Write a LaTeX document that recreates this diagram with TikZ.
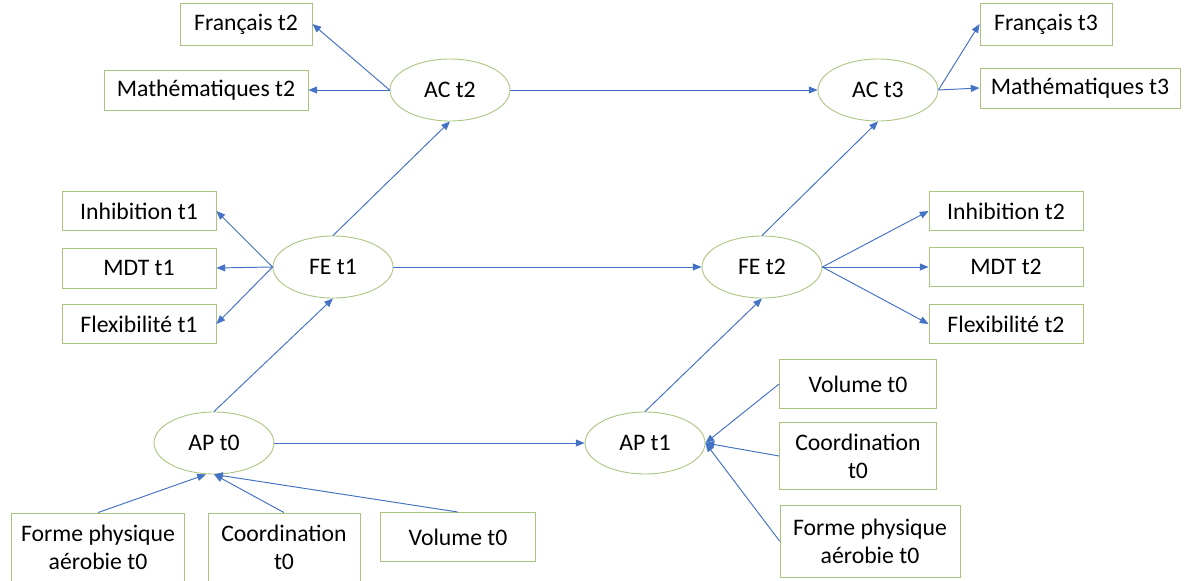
\documentclass[tikz,border=0pt]{standalone}
\usepackage{fontspec}
\setmainfont{Carlito}
\usetikzlibrary{positioning, arrows.meta, shapes.geometric}
\definecolor{nBlue}{HTML}{4472C4}
\definecolor{nGreen}{HTML}{A9C47F}

\begin{document}
\begin{tikzpicture}[x=0.02cm, y=-0.02cm, >={Triangle[length=5pt,width=4pt]},
    ind/.style={draw=nGreen, line width=0.5pt, minimum height=0.8cm, align=center,
      inner sep=2pt, font=\fontsize{13.5}{16}\selectfont},
    lat/.style={ellipse, draw=nGreen, line width=0.5pt, minimum width=2.4cm, minimum height=1.24cm,
      inner sep=0pt, font=\fontsize{13.5}{16}\selectfont},
    link/.style={->, draw=nBlue, line width=0.55pt}]
  \useasboundingbox (0,0) rectangle (1188,581);
  % latent variables
  \node[lat] (ac2) at (450,90) {AC t2};
  \node[lat] (ac3) at (878,90) {AC t3};
  \node[lat] (fe1) at (333,267) {FE t1};
  \node[lat] (fe2) at (762,267) {FE t2};
  \node[lat] (ap0) at (214,443) {AP t0};
  \node[lat] (ap1) at (645,443) {AP t1};
  % indicators
  \node[ind, minimum width=2.64cm, minimum height=0.84cm] (fr2) at (246,24) {Français t2};
  \node[ind, minimum width=4.08cm] (ma2) at (206,90) {Mathématiques t2};
  \node[ind, minimum width=2.64cm, minimum height=0.84cm] (fr3) at (1046,24) {Français t3};
  \node[ind, minimum width=4.0cm] (ma3) at (1080,88) {Mathématiques t3};
  \node[ind, minimum width=3.08cm, minimum height=0.78cm] (in1) at (139,211) {Inhibition t1};
  \node[ind, minimum width=3.08cm] (md1) at (139,268) {MDT t1};
  \node[ind, minimum width=3.08cm, minimum height=0.78cm] (fl1) at (139,324) {Flexibilité t1};
  \node[ind, minimum width=3.08cm, minimum height=0.78cm] (in2) at (1006,211) {Inhibition t2};
  \node[ind, minimum width=3.08cm, minimum height=0.78cm] (md2) at (1006,267) {MDT t2};
  \node[ind, minimum width=3.08cm, minimum height=0.78cm] (fl2) at (1006,324) {Flexibilité t2};
  \node[ind, minimum width=3.14cm, minimum height=0.98cm] (vo1) at (858,384) {Volume t0};
  \node[ind, minimum width=3.14cm, minimum height=1.34cm] (co1) at (858,456) {Coordination\\t0};
  \node[ind, minimum width=3.6cm, minimum height=1.44cm] (fo1) at (870,541) {Forme physique\\aérobie t0};
  \node[ind, minimum width=3.46cm, minimum height=1.36cm] (fo0) at (98,547) {Forme physique\\aérobie t0};
  \node[ind, minimum width=3.04cm, minimum height=1.36cm] (co0) at (284,547) {Coordination\\t0};
  \node[ind, minimum width=3.1cm, minimum height=0.98cm] (vo0) at (458,537) {Volume t0};
  % structural paths
  \draw[link] (ac2) -- (ac3);
  \draw[link] (fe1) -- (fe2);
  \draw[link] (ap0) -- (ap1);
  \draw[link] (fe1.north) -- (ac2.south);
  \draw[link] (fe2.north) -- (ac3.south);
  \draw[link] (ap0.north) -- (fe1.south);
  \draw[link] (ap1.north) -- (fe2.south);
  % measurement paths
  \draw[link] (ac2.west) -- (fr2.east);
  \draw[link] (ac2.west) -- (ma2.east);
  \draw[link] (ac3.east) -- (fr3.west);
  \draw[link] (ac3.east) -- (ma3.west);
  \draw[link] (fe1.west) -- (in1.east);
  \draw[link] (fe1.west) -- (md1.east);
  \draw[link] (fe1.west) -- (fl1.east);
  \draw[link] (fe2.east) -- (in2.west);
  \draw[link] (fe2.east) -- (md2.west);
  \draw[link] (fe2.east) -- (fl2.west);
  \draw[link] (vo1.west) -- (ap1.east);
  \draw[link] (co1.west) -- (ap1.east);
  \draw[link] (fo1.west) -- (ap1.east);
  \draw[link] (fo0.north) -- ([xshift=-0.16cm]ap0.south);
  \draw[link] (co0.north) -- (ap0.south);
  \draw[link] (vo0.north) -- (ap0.south);
\end{tikzpicture}
\end{document}
